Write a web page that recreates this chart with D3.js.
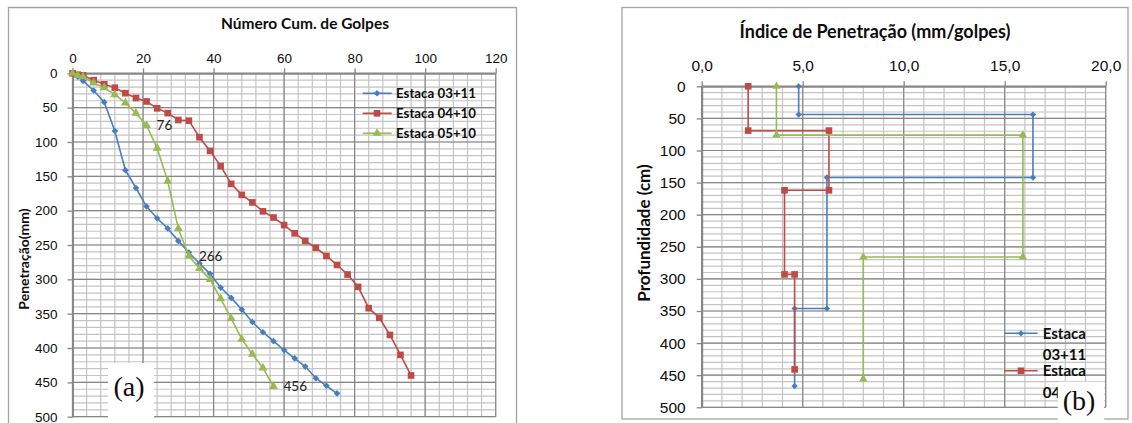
<!DOCTYPE html>
<html>
<head>
<meta charset="utf-8">
<script src="https://cdn.jsdelivr.net/npm/d3@7"></script>
<style>
  html, body { margin: 0; padding: 0; background: #fff; }
  svg { display: block; font-family: Lato, "Open Sans", sans-serif; }
</style>
</head>
<body>
<svg id="fig" width="1132" height="423"></svg>
<script>
// ---- Gráfico (a): número acumulado de golpes x penetração ----
const seriesNames = ["Estaca 03+11", "Estaca 04+10", "Estaca 05+10"];
const colors = ["#4A7EBB", "#BE4B48", "#98B954"];

const golpes0311 = [0, 1.5, 3, 6, 9, 12, 15, 18, 21, 24, 27, 30, 33, 36, 39, 42, 45, 48, 51, 54, 57, 60, 63, 66, 69, 72, 75];
const penet0311  = [0, 5, 11, 25, 42, 84, 141, 167, 194, 211, 226, 244, 261, 277, 292, 312, 327, 344, 362, 377, 390, 403, 415, 427, 444, 455, 466];

const golpes0410 = [0, 1.5, 3, 6, 9, 12, 15, 18, 21, 24, 27, 30, 33, 36, 39, 42, 45, 48, 51, 54, 57, 60, 63, 66, 69, 72, 75, 78, 81, 84, 87, 90, 93, 96];
const penet0410  = [0, 2, 3, 10, 16, 21, 29, 36, 41, 51, 58, 68, 69, 93, 113, 135, 161, 177, 188, 201, 210, 221, 233, 244, 254, 266, 279, 293, 311, 342, 356, 381, 410, 440];

const golpes0510 = [0, 1.5, 3, 6, 9, 12, 15, 18, 21, 24, 27, 30, 33, 36, 39, 42, 45, 48, 51, 54, 57];
const penet0510  = [0, 3, 5, 14, 21, 31, 43, 58, 76, 109, 157, 226, 266, 284, 300, 328, 357, 387, 409, 429, 456];

// pontos com rótulo (valor de penetração)
const labelled0510 = [76, 266, 456];

const golpesTicks = [0, 20, 40, 60, 80, 100, 120];
const penetTicks = [0, 50, 100, 150, 200, 250, 300, 350, 400, 450, 500];

// ---- Gráfico (b): índice de penetração x profundidade ----
const ip0311   = [4.8, 4.8, 16.4, 16.4, 6.2, 6.2, 4.6, 4.6];
const prof0311 = [0, 44, 44, 142, 142, 346, 346, 467];
const ip0410   = [2.3, 2.3, 6.3, 6.3, 4.1, 4.1, 4.6, 4.6];
const prof0410 = [0, 69, 69, 162, 162, 293, 293, 441];
const ip0510   = [3.7, 3.7, 15.9, 15.9, 8.0, 8.0];
const prof0510 = [0, 76, 76, 266, 266, 456];

const ipTicks = [0, 5, 10, 15, 20];
const profTicks = [0, 50, 100, 150, 200, 250, 300, 350, 400, 450, 500];

const svg = d3.select("#fig");
const MAJOR = "#878787", MINOR = "#c4c4c4", FRAME = "#a3a3a3", INK = "#0d0d0d";

const zip = (xs, ys) => xs.map((x, i) => ({x, y: ys[i]}));

function markerPath(kind, s) {
  if (kind === 0) return d3.symbol(d3.symbolSquare, s.diamond)();
  if (kind === 1) return d3.symbol(d3.symbolSquare, s.square)();
  return d3.symbol(d3.symbolTriangle, s.triangle)();
}
function markerTransform(kind, px, py) {
  return kind === 0 ? `translate(${px},${py}) rotate(45)` : `translate(${px},${py})`;
}

function drawGrid(g, x, y, xMinor, yMinor, xMajor, yMajor) {
  const [x0, x1] = x.range(), [y0, y1] = y.range();
  g.append("g").selectAll("line").data(xMinor).join("line")
    .attr("x1", d => x(d)).attr("x2", d => x(d)).attr("y1", y0).attr("y2", y1)
    .attr("stroke", MINOR).attr("stroke-width", 1.2);
  g.append("g").selectAll("line").data(yMinor).join("line")
    .attr("y1", d => y(d)).attr("y2", d => y(d)).attr("x1", x0).attr("x2", x1)
    .attr("stroke", MINOR).attr("stroke-width", 1.2);
  g.append("g").selectAll("line").data(xMajor).join("line")
    .attr("x1", d => x(d)).attr("x2", d => x(d)).attr("y1", y0).attr("y2", y1)
    .attr("stroke", MAJOR).attr("stroke-width", 1.2);
  g.append("g").selectAll("line").data(yMajor).join("line")
    .attr("y1", d => y(d)).attr("y2", d => y(d)).attr("x1", x0).attr("x2", x1)
    .attr("stroke", MAJOR).attr("stroke-width", 1.2);
}

function styleAxis(sel, fontSize) {
  sel.select(".domain").attr("stroke", MAJOR).attr("stroke-width", 2);
  sel.selectAll(".tick line").attr("stroke", MAJOR).attr("stroke-width", 1.3);
  sel.selectAll(".tick text").attr("fill", INK).attr("font-size", fontSize);
}

// ================= (a) =================
{
  const g = svg.append("g");
  g.append("path").attr("d", "M8.5,423 V7.5 H516.5 V423")
    .attr("fill", "none").attr("stroke", FRAME).attr("stroke-width", 1.3);

  const x = d3.scaleLinear().domain([0, 120]).range([72.5, 495.7]);
  const y = d3.scaleLinear().domain([0, 500]).range([73.3, 416.7]);

  drawGrid(g, x, y, d3.range(0, 121, 4), d3.range(0, 501, 10), golpesTicks, penetTicks);

  const ax = g.append("g").attr("transform", `translate(0,${y(0)})`)
    .call(d3.axisTop(x).tickValues(golpesTicks).tickSize(5).tickSizeOuter(0).tickPadding(5));
  styleAxis(ax, 13.5);
  const ay = g.append("g").attr("transform", `translate(${x(0)},0)`)
    .call(d3.axisLeft(y).tickValues(penetTicks).tickSize(5).tickSizeOuter(0).tickPadding(10));
  styleAxis(ay, 13.5);

  g.append("text").attr("x", 305).attr("y", 29).attr("text-anchor", "middle")
    .attr("font-size", 15.5).attr("font-weight", "bold").attr("fill", INK)
    .text("Número Cum. de Golpes");
  g.append("text").attr("transform", "translate(29,259) rotate(-90)")
    .attr("text-anchor", "middle").attr("font-size", 14).attr("font-weight", "bold").attr("fill", INK)
    .text("Penetração(mm)");

  const data = [zip(golpes0311, penet0311), zip(golpes0410, penet0410), zip(golpes0510, penet0510)];
  const line = d3.line().x(d => x(d.x)).y(d => y(d.y));
  const sizes = {diamond: 22, square: 44, triangle: 34};
  data.forEach((pts, k) => {
    g.append("path").attr("d", line(pts)).attr("fill", "none")
      .attr("stroke", colors[k]).attr("stroke-width", 1.6);
    g.append("g").selectAll("path").data(pts).join("path")
      .attr("d", markerPath(k, sizes))
      .attr("transform", d => markerTransform(k, x(d.x), y(d.y)))
      .attr("fill", colors[k]);
  });

  const lbl = data[2].filter(d => labelled0510.includes(d.y));
  g.append("g").selectAll("text").data(lbl).join("text")
    .attr("x", d => x(d.x) + 10).attr("y", d => y(d.y) + 5)
    .attr("font-size", 13.5).attr("fill", "#222").text(d => d.y);

  const leg = g.append("g");
  seriesNames.forEach((name, k) => {
    const ly = 93.3 + k * 20;
    leg.append("line").attr("x1", 362.7).attr("x2", 391.7).attr("y1", ly).attr("y2", ly)
      .attr("stroke", colors[k]).attr("stroke-width", 1.6);
    leg.append("path").attr("d", markerPath(k, sizes))
      .attr("transform", markerTransform(k, 377, ly)).attr("fill", colors[k]);
    leg.append("text").attr("x", 396).attr("y", ly + 4.5)
      .attr("font-size", 13.3).attr("font-weight", "bold").attr("fill", INK).text(name);
  });

  g.append("rect").attr("x", 108).attr("y", 363).attr("width", 46).attr("height", 60).attr("fill", "#fff");
  g.append("text").attr("x", 129).attr("y", 396).attr("text-anchor", "middle")
    .attr("font-family", "'Liberation Serif', 'DejaVu Serif', serif").attr("font-size", 28)
    .attr("fill", INK).text("(a)");
}

// ================= (b) =================
{
  const g = svg.append("g");
  g.append("rect").attr("x", 622).attr("y", 7.5).attr("width", 1128 - 622).attr("height", 411.5)
    .attr("fill", "none").attr("stroke", FRAME).attr("stroke-width", 1.3);

  const x = d3.scaleLinear().domain([0, 20]).range([701.7, 1105.7]);
  const y = d3.scaleLinear().domain([0, 500]).range([86.3, 407.3]);

  drawGrid(g, x, y, d3.range(0, 21, 1), d3.range(0, 501, 10), ipTicks, profTicks);

  const fmt = d => d3.format(".1f")(d).replace(".", ",");
  const ax = g.append("g").attr("transform", `translate(0,${y(0)})`)
    .call(d3.axisTop(x).tickValues(ipTicks).tickFormat(fmt).tickSize(5).tickSizeOuter(0).tickPadding(10));
  styleAxis(ax, 15.5);
  const ay = g.append("g").attr("transform", `translate(${x(0)},0)`)
    .call(d3.axisLeft(y).tickValues(profTicks).tickSize(5).tickSizeOuter(0).tickPadding(11));
  styleAxis(ay, 15.5);

  g.append("text").attr("x", 875).attr("y", 38).attr("text-anchor", "middle")
    .attr("font-size", 18).attr("font-weight", "bold").attr("fill", INK)
    .text("Índice de Penetração (mm/golpes)");
  g.append("text").attr("transform", "translate(650,233) rotate(-90)")
    .attr("text-anchor", "middle").attr("font-size", 17).attr("font-weight", "bold").attr("fill", INK)
    .text("Profundidade (cm)");

  const data = [zip(ip0311, prof0311), zip(ip0410, prof0410), zip(ip0510, prof0510)];
  const line = d3.line().x(d => x(d.x)).y(d => y(d.y));
  const sizes = {diamond: 20, square: 44, triangle: 30};
  data.forEach((pts, k) => {
    g.append("path").attr("d", line(pts)).attr("fill", "none")
      .attr("stroke", colors[k]).attr("stroke-width", 1.6);
    g.append("g").selectAll("path").data(pts).join("path")
      .attr("d", markerPath(k, sizes))
      .attr("transform", d => markerTransform(k, x(d.x), y(d.y)))
      .attr("fill", colors[k]);
  });

  // legenda, recortada pela área disponível
  g.append("clipPath").attr("id", "legClip")
    .append("rect").attr("x", 1000).attr("y", 315).attr("width", 110).attr("height", 84);
  const leg = g.append("g").attr("clip-path", "url(#legClip)");
  seriesNames.forEach((name, k) => {
    const ly = 333.3 + k * 37.5;
    const [w1, w2] = name.split(" ");
    leg.append("line").attr("x1", 1004.3).attr("x2", 1037.7).attr("y1", ly).attr("y2", ly)
      .attr("stroke", colors[k]).attr("stroke-width", 1.6);
    leg.append("path").attr("d", markerPath(k, sizes))
      .attr("transform", markerTransform(k, 1021, ly)).attr("fill", colors[k]);
    const t = leg.append("text").attr("x", 1042.7).attr("y", ly + 5.5)
      .attr("font-size", 15).attr("font-weight", "bold").attr("fill", INK);
    t.append("tspan").text(w1);
    t.append("tspan").attr("x", 1042.7).attr("dy", 21.5).text(w2);
  });

  g.append("rect").attr("x", 1057.7).attr("y", 381.7).attr("width", 46.5).attr("height", 42).attr("fill", "#fff");
  g.append("text").attr("x", 1079).attr("y", 410).attr("text-anchor", "middle")
    .attr("font-family", "'Liberation Serif', 'DejaVu Serif', serif").attr("font-size", 28)
    .attr("fill", INK).text("(b)");
}
</script>
</body>
</html>
